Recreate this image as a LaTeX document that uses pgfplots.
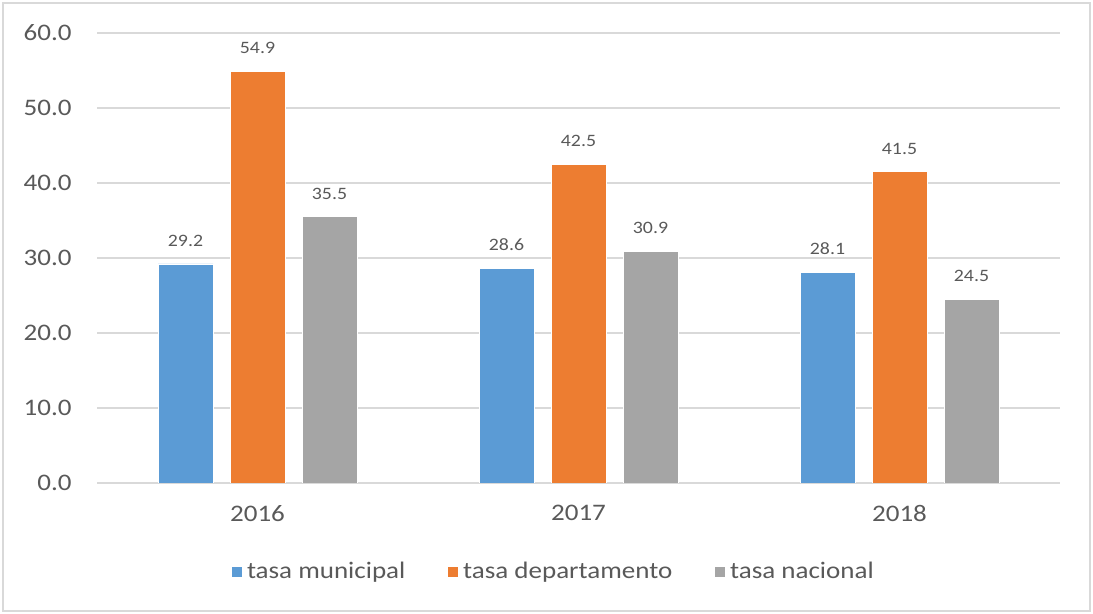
\documentclass[border=0pt]{standalone}
\usepackage{fontspec}
\setmainfont{Carlito}[FakeStretch=1.14]
\usepackage{pgfplots}
\pgfplotsset{compat=1.18}
\definecolor{cblue}{HTML}{5B9BD5}
\definecolor{corange}{HTML}{ED7D31}
\definecolor{cgray}{HTML}{A5A5A5}
\definecolor{ctext}{HTML}{595959}
\definecolor{cgrid}{HTML}{D9D9D9}
\begin{document}
\begin{tikzpicture}
\useasboundingbox (0,0) rectangle (546.5pt,307pt);
\draw[cgrid, line width=1pt] (1.5pt,1.5pt) rectangle (545pt,305.5pt);
\begin{axis}[
    at={(48.5pt,65.5pt)}, anchor=south west,
    scale only axis,
    width=481.5pt, height=225pt,
    ybar=8.5pt, bar width=27.5pt,
    xmin=-0.5, xmax=2.5,
    ymin=0, ymax=60,
    xtick=data,
    xticklabels={2016,2017,2018},
    ytick={0,10,...,60},
    axis y line*=left,
    y axis line style={draw=none},
    axis x line*=bottom,
    x axis line style={cgrid, line width=1pt, -},
    ymajorgrids,
    grid style={cgrid, line width=0.9pt},
    major tick length=0pt,
    tick style={draw=none},
    /pgf/number format/assume math mode=true,
    yticklabel={\pgfmathprintnumber[fixed,fixed zerofill,precision=1]{\tick}},
    yticklabel style={anchor=east, inner sep=0pt, xshift=-12.5pt, font=\fontsize{11.85}{14}\selectfont, text=ctext},
    xticklabel style={anchor=north, inner sep=0pt, yshift=-11pt, font=\fontsize{11.85}{14}\selectfont, text=ctext},
    nodes near coords,
    nodes near coords style={anchor=south, inner sep=0pt, yshift=8.5pt, font=\fontsize{8.7}{10}\selectfont, text=ctext,
        /pgf/number format/.cd, fixed, fixed zerofill, precision=1, assume math mode=true},
    legend columns=3,
    legend style={at={(0.5,0)}, anchor=center, xshift=-12pt, yshift=-44.5pt,
        draw=none, fill=none, font=\fontsize{11.85}{14}\selectfont, text=ctext,
        /tikz/every even column/.append style={column sep=19pt}},
    legend image code/.code={\fill (0pt,-2.75pt) rectangle (5.5pt,2.75pt);},
]
\addplot[fill=cblue, draw=white, line width=0.4pt] coordinates {(0,29.2) (1,28.6) (2,28.1)};
\addplot[fill=corange, draw=white, line width=0.4pt] coordinates {(0,54.9) (1,42.5) (2,41.5)};
\addplot[fill=cgray, draw=white, line width=0.4pt] coordinates {(0,35.5) (1,30.9) (2,24.5)};
\legend{tasa municipal, tasa departamento, tasa nacional}
\end{axis}
\end{tikzpicture}
\end{document}
